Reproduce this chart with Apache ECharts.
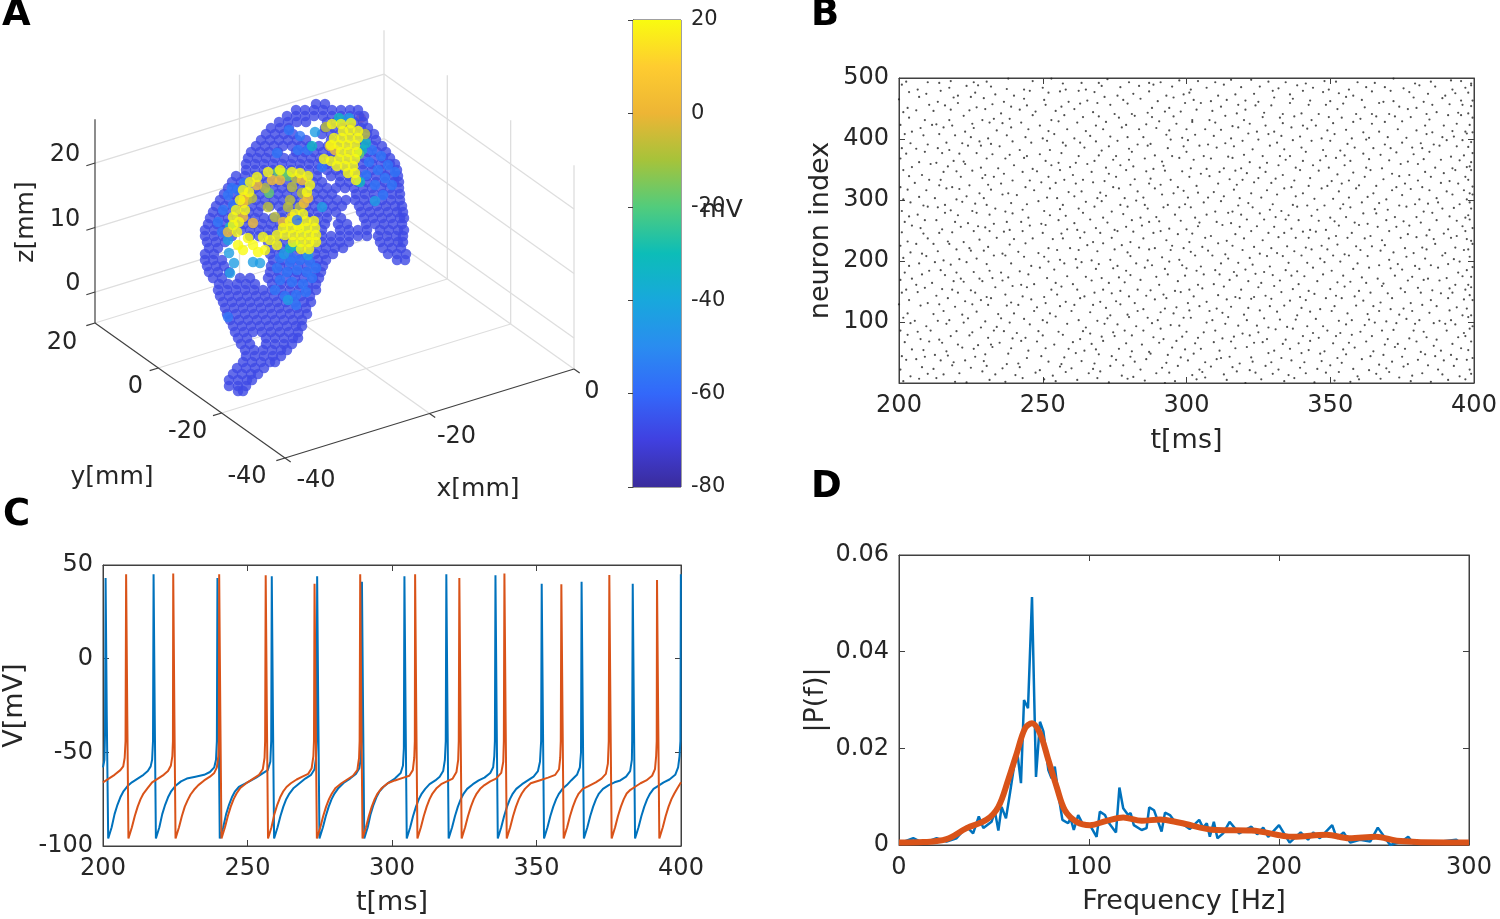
<!DOCTYPE html>
<html><head><meta charset="utf-8">
<style>html,body{margin:0;padding:0;background:#fff}#c{width:1500px;height:919px}</style>
<script src="https://cdn.jsdelivr.net/npm/echarts@6/dist/echarts.min.js"></script>
</head><body><div id="c"></div>
<script>
// ---------- Panel A: projected positions of the cortical nodes, grouped by membrane potential
const deepV=-68, midV=-56, lightV=-44, tealV=-33, greenV=-18, oliveV=-7, orangeV=4, yellowV=20;
const brainDeepRows=[
[104,316,325],
[110,296,305,314,323,332,341,350,358],
[116,287,296,305,314,323,332,341,350,359,364],
[122,279,288,297,306,327,336,345,354,363],
[128,271,280,289,325,334,343,352,361,368],
[134,266,275,284,293,322,331,340,349,358,367,374],
[140,261,270,279,288,297,306,331,340,349,358,367,376],
[146,256,265,274,283,292,301,310,319,328,337,346,355,364,373,382],
[152,251,260,269,278,296,305,314,323,332,341,350,359,368,377,386],
[158,248,257,266,275,284,293,302,311,320,329,338,347,356,365,374,383,390],
[164,246,255,264,273,282,291,300,309,318,327,336,345,354,363,372,381,390,395],
[170,246,255,264,273,282,291,300,309,318,327,336,345,354,363,372,381,390,397],
[176,236,245,254,263,272,281,290,299,308,317,331,340,349,358,367,376,385,394,398],
[182,232,241,250,259,268,277,286,295,304,313,322,340,349,358,367,376,385,394,399],
[188,228,237,246,255,264,273,282,291,300,309,318,327,336,345,354,363,372,381,390,399],
[194,224,233,242,251,260,269,278,287,296,305,314,323,332,356,365,374,383,392,400],
[200,220,229,238,247,256,265,274,283,292,301,310,319,328,337,346,355,364,373,382,391,400],
[206,216,225,234,243,252,261,270,279,288,297,306,315,324,333,342,359,368,377,386,395,402],
[212,213,222,231,240,249,258,282,291,300,309,318,327,336,361,370,379,388,397,403],
[218,210,219,228,237,246,255,264,273,282,291,300,309,318,327,341,364,373,382,391,400,404],
[224,208,217,226,235,244,253,262,271,280,289,298,307,316,325,338,347,366,375,384,393,402],
[230,205,214,223,232,241,250,259,268,277,286,295,304,313,322,340,349,358,367,380,389,398,404],
[236,205,214,223,232,250,259,268,277,286,295,304,313,322,331,340,349,358,367,378,387,396,403],
[242,207,216,225,268,277,286,295,304,313,322,331,340,349,380,389,398,403],
[248,209,218,272,281,290,299,308,317,326,335,343,383,392,401],
[254,205,214,270,279,288,297,306,315,324,333,388,397,406],
[260,205,213,222,273,282,291,300,309,318,326,397,405],
[266,207,216,224,271,280,289,298,307,316,323],
[272,209,218,229,270,279,288,297,306,315,321],
[278,213,222,240,250,268,277,286,295,304,313,319],
[284,219,228,237,246,255,272,281,290,299,308,316],
[290,218,227,236,245,254,263,272,281,290,299,308,316],
[296,220,229,238,247,256,265,274,283,292,301,310],
[302,223,232,241,250,259,268,277,286,295,304,311],
[308,225,234,243,252,261,270,279,288,297,306],
[314,227,236,245,254,263,272,281,290,299,307],
[320,230,239,248,257,266,275,284,293,302],
[326,233,242,251,260,269,278,287,296,302],
[332,235,244,253,262,271,280,289,298],
[338,238,247,266,275,284,293,298],
[344,241,250,266,275,284,292],
[350,245,254,263,272,281,287],
[356,246,255,264,273,281],
[362,243,252,261,270,275],
[368,237,246,255,264],
[374,233,242,251,258],
[380,229,238,247,252],
[386,229,238,246],
[391,238,243]];
const brainMid=[[372,150],[381,156],[388,165],[378,170],[369,162],[385,178],[392,185],[375,185],[366,175],[383,195],[395,172],[280,258],[290,262],[300,260],[310,262],[277,268],[287,272],[297,270],[307,272],[316,268],[280,280],[292,282],[303,284],[312,278],[275,290],[285,296],[296,295],[306,292],[292,258],[228,195],[233,205],[223,210],[238,190],[244,183],[232,188],[218,222],[222,232],[289,130],[300,136],[277,153],[298,150],[308,150],[322,167],[305,230],[228,317],[296,305]];
const brainLight=[[253,262],[260,263],[229,253],[234,263],[230,273],[288,300],[322,207],[315,132],[375,201],[284,254],[308,255],[349,118],[228,240]];
const brainTeal=[[339,118],[312,146],[366,143],[360,182],[290,248],[297,246],[230,227],[362,150]];
const brainGreen=[[359,154],[283,173],[288,176],[278,172],[269,193]];
const brainOlive=[[247,200],[252,198],[265,188],[268,207],[290,200],[288,207],[292,187],[302,193],[300,207],[275,217],[326,127],[365,134],[296,178]];
const brainOrange=[[244,197],[257,185],[272,180],[243,203],[308,198],[304,203],[253,223],[292,217],[283,222],[243,217],[228,232],[335,150],[330,146],[280,180],[302,180]];
const brainYellow=[[233,217],[236,210],[240,200],[243,190],[250,182],[257,177],[268,172],[280,170],[292,172],[300,173],[308,176],[310,185],[307,192],[233,225],[239,222],[245,210],[249,192],
[332,124],[341,124],[351,123],[343,131],[350,130],[358,131],[334,138],[342,138],[350,138],[358,138],[331,145],[339,145],[347,145],[355,145],[341,152],[349,152],[357,152],[324,159],[331,161],[339,159],[347,159],[355,159],[337,166],[345,166],[353,166],[348,173],[355,173],[356,180],
[295,214],[303,214],[290,221],[298,225],[306,221],[314,221],[283,228],[291,228],[299,228],[307,228],[315,228],[277,235],[285,235],[293,235],[301,235],[309,235],[316,235],[293,242],[301,242],[309,242],[316,242],[301,249],[309,249],
[237,232],[248,238],[253,245],[238,245],[243,250],[258,252],[265,250],[263,237],[270,240],[277,245]];
const brainHidden=[[361,118]];
const brainOver=[[297,220]];
// Panel A axes
const zTicks=[0,10,20], yTicks=[20,0,-20,-40], xTicks=[-40,-20,0];
const boxX=[-40,0], boxY=[-40,20], boxZ=[-4.8,26.8];
// Colour bar
const cbarRange=[-80,20];
const parula=['#3A2C9C','#4040E0','#3368FA','#2A8CF0','#18A8DC','#0CBDB8','#52CC7C','#A6C33A','#EDB535','#FECC30','#F9FB10'];
// ---------- Panel B: spikes; each code per decade of neurons is (half-ms after 200)*10 + neuron digit
const rasterRows=[
[33,147,268,392,471,635,742,868,1016,1093,1245,1388,1461,1597,1714,1850,1923,2076,2139,2285,2410,2526,2683,2758,2891,3034,3142,3206,3357,3489,3563,3702,3825,3946],
[81,205,314,426,589,674,813,957,1072,1168,1326,1409,1552,1630,1796,1887,2043,2118,2264,2359,2487,2605,2713,2836,2977,3068,3191,3325,3418,3572,3646,3784,3901,3985],
[12,166,243,379,505,618,724,846,981,1127,1204,1353,1478,1569,1682,1835,1948,2092,2177,2326,2441,2558,2642,2795,2913,3009,3163,3271,3394,3517,3689,3752,3868,3972],
[58,129,297,384,467,596,751,832,1045,1131,1276,1362,1518,1645,1729,1863,2017,2134,2219,2372,2465,2594,2737,2824,2946,3083,3229,3340,3435,3541,3618,3797,3889,3958],
[24,183,256,345,533,607,768,891,994,1152,1239,1397,1484,1613,1758,1876,1962,2058,2241,2303,2452,2579,2661,2809,2938,3051,3117,3284,3376,3503,3667,3734,3846,3991],
[95,174,332,448,526,659,787,903,1027,1186,1293,1375,1536,1622,1741,1908,1995,2106,2233,2347,2429,2613,2726,2854,2962,3095,3178,3302,3459,3526,3631,3773,3917,3964],
[47,218,306,413,552,643,706,859,968,1083,1217,1344,1429,1585,1693,1816,1939,2065,2197,2318,2476,2537,2674,2785,2869,3025,3136,3258,3383,3474,3608,3721,3854,3988],
[69,152,281,367,498,624,793,884,1008,1149,1262,1416,1507,1628,1775,1842,1976,2084,2253,2336,2448,2562,2691,2817,2924,3047,3159,3297,3402,3553,3675,3741,3895,3947],
[16,134,226,405,513,666,735,822,975,1114,1285,1331,1493,1576,1706,1829,2004,2123,2206,2391,2503,2628,2749,2882,2986,3072,3214,3366,3447,3586,3654,3816,3932,3979],
[88,193,337,459,571,682,779,916,1039,1177,1301,1437,1526,1653,1768,1895,1954,2149,2277,2364,2494,2571,2702,2843,2953,3116,3245,3319,3468,3597,3728,3807,3876,3993],
[37,112,272,353,486,601,716,875,1003,1099,1253,1382,1456,1608,1737,1803,1987,2037,2183,2298,2423,2546,2654,2764,2905,3062,3153,3274,3391,3535,3623,3762,3843,3968],
[64,243,318,442,547,693,804,948,1054,1208,1336,1471,1592,1668,1826,1914,2029,2168,2255,2402,2519,2637,2771,2867,3018,3124,3263,3348,3482,3578,3695,3839,3921,3981],
[9,157,289,395,519,628,757,838,964,1126,1228,1358,1443,1549,1701,1852,1934,2096,2212,2315,2433,2586,2687,2803,2931,3036,3187,3306,3421,3512,3648,3746,3884,3952],
[76,201,349,464,576,649,782,927,1021,1163,1269,1403,1514,1641,1787,1869,2011,2143,2287,2379,2458,2598,2725,2836,2979,3089,3235,3352,3439,3561,3706,3829,3937,3996],
[28,139,263,418,538,611,745,862,1011,1105,1292,1368,1487,1602,1723,1845,1969,2052,2224,2341,2471,2553,2669,2791,2896,3043,3172,3288,3407,3529,3638,3777,3858,3974],
[53,186,304,373,502,677,799,897,1063,1138,1243,1423,1541,1663,1752,1921,2023,2115,2268,2383,2507,2619,2744,2851,3004,3108,3201,3369,3495,3616,3712,3835,3943,3987],
[19,121,234,387,456,587,728,851,942,1094,1212,1348,1464,1575,1689,1811,1947,2081,2192,2309,2437,2524,2658,2782,2917,3055,3146,3254,3373,3548,3659,3768,3871,3961],
[91,168,327,431,561,652,763,908,1032,1175,1304,1412,1533,1617,1794,1878,1996,2128,2238,2356,2489,2607,2736,2825,2958,3096,3223,3331,3456,3574,3681,3812,3925,3984],
[41,214,295,401,522,634,711,843,989,1086,1249,1377,1498,1584,1719,1857,2008,2074,2205,2332,2416,2542,2695,2773,2889,3014,3167,3279,3428,3506,3627,3759,3891,3955],
[72,146,258,364,478,615,786,922,1049,1156,1278,1395,1522,1656,1763,1889,1973,2101,2246,2367,2464,2581,2717,2847,2968,3079,3196,3343,3475,3592,3703,3825,3909,3990],
[35,198,311,423,544,669,749,877,1017,1122,1233,1341,1472,1618,1731,1836,1952,2069,2189,2294,2445,2568,2678,2809,2934,3029,3139,3268,3412,3537,3664,3789,3863,3977],
[84,162,276,409,507,597,722,835,973,1108,1258,1386,1509,1594,1749,1898,2035,2157,2271,2398,2512,2633,2756,2879,2989,3101,3218,3357,3444,3583,3679,3803,3938,3969],
[15,128,248,358,491,623,777,889,1041,1191,1316,1429,1556,1672,1781,1905,1981,2113,2229,2325,2473,2591,2704,2832,2945,3057,3184,3294,3386,3521,3642,3738,3872,3998],
[62,207,342,451,565,688,806,937,1076,1147,1268,1351,1488,1611,1707,1864,2021,2138,2283,2407,2534,2649,2768,2858,2997,3128,3247,3364,3498,3609,3726,3848,3956,3983],
[27,175,286,377,529,639,738,869,1006,1135,1297,1406,1529,1638,1776,1829,1944,2045,2171,2344,2459,2576,2686,2818,2908,3041,3156,3281,3419,3544,3672,3795,3881,3949],
[98,154,302,436,557,605,771,918,1029,1172,1241,1374,1501,1586,1698,1883,2002,2087,2259,2376,2497,2616,2733,2861,2971,3068,3209,3336,3466,3558,3691,3822,3927,3994],
[44,187,267,394,482,661,754,854,991,1117,1222,1338,1453,1627,1744,1815,1966,2093,2214,2312,2428,2548,2698,2787,2926,3035,3173,3261,3397,3515,3633,3747,3886,3978],
[73,136,329,415,549,636,798,901,1055,1164,1289,1421,1567,1681,1792,1926,2061,2146,2299,2386,2518,2622,2715,2874,3001,3112,3238,3328,3452,3602,3719,3833,3941,3965],
[22,209,278,363,512,676,741,864,1012,1125,1256,1369,1481,1599,1736,1848,1958,2038,2201,2321,2468,2584,2662,2779,2914,3076,3148,3315,3404,3539,3651,3786,3867,3986],
[86,171,322,447,534,612,785,893,978,1142,1307,1418,1542,1659,1712,1872,1993,2126,2248,2361,2435,2603,2742,2841,2961,3093,3226,3345,3481,3593,3684,3756,3903,3976],
[31,145,253,401,476,593,729,828,1034,1103,1226,1383,1447,1573,1704,1839,2014,2154,2266,2373,2524,2639,2766,2892,3022,3134,3265,3391,3508,3621,3743,3859,3951,3999],
[67,196,339,428,561,647,761,946,1059,1183,1274,1402,1539,1664,1789,1911,1985,2082,2193,2337,2451,2566,2689,2811,2949,3064,3189,3301,3436,3568,3696,3814,3936,3971],
[11,118,284,371,494,625,717,881,999,1098,1237,1359,1491,1615,1747,1825,1941,2073,2227,2355,2479,2598,2731,2853,2983,3087,3204,3323,3461,3527,3641,3778,3897,3992],
[79,213,293,438,586,668,792,912,1048,1153,1283,1431,1518,1644,1755,1893,2028,2169,2304,2393,2506,2625,2752,2866,3011,3132,3248,3374,3489,3612,3708,3831,3948,3963],
[39,161,316,407,518,601,733,866,967,1129,1211,1346,1463,1589,1727,1858,1977,2103,2236,2348,2424,2556,2671,2799,2928,3052,3165,3289,3433,3551,3666,3794,3879,3989],
[94,229,345,469,573,692,807,931,1067,1194,1319,1443,1547,1635,1771,1846,2032,2141,2262,2382,2513,2647,2763,2887,2993,3107,3253,3362,3499,3619,3733,3852,3954,3975],
[18,142,261,384,453,618,748,879,1024,1111,1231,1364,1496,1606,1718,1833,1959,2056,2178,2329,2442,2561,2696,2814,2935,3049,3144,3277,3415,3543,3657,3776,3905,3982],
[56,189,307,426,547,655,774,892,985,1137,1252,1393,1512,1629,1783,1902,2009,2122,2291,2404,2532,2652,2722,2839,2972,3103,3236,3354,3468,3585,3699,3841,3933,3997],
[25,124,275,352,489,579,708,842,1052,1169,1296,1411,1468,1604,1739,1875,1988,2099,2216,2338,2463,2589,2683,2806,2952,3071,3176,3305,3425,3576,3645,3769,3888,3967],
[83,201,334,443,566,642,796,924,1037,1144,1264,1376,1527,1661,1752,1899,2018,2151,2273,2397,2509,2634,2748,2877,3007,3122,3259,3381,3504,3633,3721,3818,3928,3985],
[48,176,288,396,503,621,756,883,1001,1088,1221,1335,1474,1593,1703,1867,1972,2067,2195,2311,2439,2578,2665,2794,2941,3038,3151,3272,3403,3532,3678,3783,3864,3959],
[92,158,319,462,528,684,789,906,1043,1176,1303,1426,1559,1676,1798,1884,2006,2136,2245,2369,2492,2612,2739,2847,2984,3115,3231,3342,3476,3604,3711,3853,3942,3991],
[13,233,264,372,515,637,726,857,982,1119,1247,1372,1448,1583,1724,1819,1935,2048,2207,2321,2445,2552,2676,2812,2902,3026,3168,3295,3388,3509,3662,3792,3885,3973],
[75,181,351,458,581,663,773,939,1061,1159,1286,1397,1535,1648,1766,1917,2041,2161,2278,2401,2536,2655,2757,2871,2996,3085,3213,3327,3457,3566,3692,3829,3919,3995],
[34,127,246,368,497,609,712,848,955,1096,1229,1354,1501,1621,1733,1855,1965,2078,2186,2352,2418,2543,2671,2802,2921,3059,3181,3291,3411,3549,3671,3744,3893,3962],
[61,216,325,419,542,657,783,895,1026,1133,1268,1389,1476,1598,1761,1881,1999,2109,2243,2366,2485,2595,2729,2856,2976,3098,3242,3349,3483,3601,3716,3837,3926,3984],
[5,149,271,388,509,597,731,876,1014,1181,1313,1439,1564,1686,1802,1918,2054,2172,2284,2413,2501,2618,2746,2863,3002,3119,3224,3371,3442,3588,3651,3787,3913,3993],
[77,194,299,411,536,673,801,919,1046,1128,1259,1367,1521,1634,1748,1861,1983,2026,2221,2343,2474,2609,2723,2819,2957,3065,3161,3298,3429,3557,3684,3801,3875,3966],
[29,131,354,477,558,646,752,871,1004,1161,1301,1417,1545,1677,1779,1906,2031,2144,2269,2385,2516,2643,2778,2884,2991,3131,3255,3385,3513,3628,3736,3851,3944,3988],
[54,203,282,365,523,614,769,935,1069,1141,1272,1392,1458,1603,1742,1823,1956,2085,2203,2317,2457,2574,2693,2831,2965,3044,3193,3312,3449,3591,3704,3846,3915,3981]];
// ---------- Panel C: membrane potentials, pairs of t[ms], V[mV]
const neuronBlue=[200,-58,200.5,-54,200.7,-40,200.9,43,201.3,-30,201.8,-96,202.2,-96,
203,-90,204,-83,205,-78,206,-74,207,-71,208.5,-68,210,-66,212,-64,214,-62,215.5,-60,216.5,-57.5,217,-54,217.3,-44,217.5,45,217.9,-30,218.3,-96,218.7,-96,
219.5,-90,220.5,-83,221.5,-78,222.5,-74,223.5,-71,225,-68,227,-65.5,229,-64,232,-63,235,-62,237,-60.5,238.5,-58,239.1,-54,239.4,-44,239.6,43,240,-30,240.4,-96,240.8,-96,
241.6,-90,242.6,-83,243.6,-78,244.6,-74,245.6,-71,247,-68.5,250,-66,253,-63.5,255.5,-61,257,-59.5,257.9,-55,258.2,-44,258.4,44,258.8,-30,259.2,-96,259.6,-96,
260.4,-90,261.4,-84,262.4,-79,263.4,-75,264.5,-72,266,-69,268,-66.5,270,-64,272,-62,273.2,-59,273.7,-53,273.9,-44,274.1,44,274.5,-30,274.9,-96,275.3,-96,
276.1,-90,277.1,-84,278.1,-79,279.1,-75,280.1,-72,281.5,-69,283.5,-66,285.5,-64,287.5,-61.5,288.7,-58.5,289.2,-53,289.4,-44,289.6,41,290,-30,290.4,-96,290.8,-96,
291.6,-90,292.6,-83,293.6,-78,294.6,-74,295.6,-71,297,-68.5,299,-66,301,-64,303,-61,303.8,-57,304.1,-48,304.3,44,304.7,-30,305.1,-96,305.5,-96,
306.3,-90,307.3,-84,308.3,-79,309.3,-75,310.3,-72,311.5,-69.5,313,-67,315,-65,316.5,-63,317.7,-60,318.3,-54,318.6,-44,318.8,45,319.2,-30,319.6,-96,320,-96,
320.8,-90,321.8,-84,322.8,-79,323.8,-75,324.8,-72,326,-69.5,328,-67,330,-65,332,-63.5,334,-61,335,-58,335.4,-52,335.6,-44,335.8,44.5,336.2,-30,336.6,-96,337,-96,
337.8,-90,338.8,-84,339.8,-79,340.8,-75,341.8,-72,343,-69.5,345,-67,347,-65,349,-63,350.5,-60,351.2,-55,351.6,-44,351.8,40,352.2,-30,352.6,-96,353,-96,
353.8,-90,354.8,-84,355.8,-79,356.8,-75,357.8,-72,359,-69.5,360.5,-67.5,362,-65,364,-62,365,-58,365.4,-50,365.6,41,366,-30,366.4,-96,366.8,-96,
367.6,-90,368.6,-84,369.6,-79,370.6,-75,371.6,-72,373,-69.5,375,-67.5,377,-66,379,-65,381,-63,382.4,-60,383,-54,383.1,-44,383.3,40,383.7,-30,384.1,-96,384.5,-96,
385.3,-90,386.3,-84,387.3,-79,388.3,-75,389.3,-72,390.5,-69.5,392,-68,394,-66,396,-64.5,398,-62,399,-58,399.5,-52,399.8,-44,399.95,45,400,45];
const neuronRed=[200,-66,202,-64,204,-62,206,-59.5,207,-57.5,207.5,-53,207.8,-44,208,45,208.4,-30,208.8,-96,209.2,-96,
210,-90,211,-84,212,-79,213,-75,214,-72,215.5,-69,217,-66,219,-64,221,-62,222.5,-60,223.5,-57,224,-52,224.2,-44,224.3,45.4,224.7,-30,225.1,-96,225.5,-96,
226.3,-90,227.3,-84,228.3,-79,229.3,-75.5,230.3,-72.5,231.5,-70,233,-67.5,235,-65,237,-63,238.5,-61,239.4,-58,239.9,-52,240.1,-44,240.2,45,240.6,-30,241,-96,241.4,-96,
242.2,-90,243.2,-84,244.2,-79,245.2,-75,246.2,-72,247.5,-69,250,-66,252,-64,254,-62,255.3,-59,255.9,-53,256.1,-44,256.3,44.5,256.7,-30,257.1,-96,257.5,-96,
258.3,-90,259.3,-83,260.3,-78,261.3,-74,262.3,-71,263.5,-68.5,265,-66.5,267,-64.5,269,-63,271,-61.5,272.2,-58.5,272.8,-52,273,-44,273.2,40,273.6,-30,274,-96,274.4,-96,
275.2,-90,276.2,-84,277.2,-79,278.2,-75,279.2,-72,280.5,-69,282.5,-66.5,284.5,-64.5,286.5,-62.5,288,-59.5,288.6,-53,288.8,-44,289,45,289.4,-30,289.8,-96,290.2,-96,
291,-90,292,-84,293,-79,294,-75,295,-72,296.5,-69,298.5,-66.5,301,-65,304,-63.5,306,-62.5,307.2,-59.5,307.7,-53,307.9,-44,308,45,308.4,-30,308.8,-96,309.2,-96,
310,-90,311,-84,312,-79,313,-75,314,-72,315.5,-69,317,-67,319,-65.5,321,-64,322.3,-60.5,322.9,-54,323.1,-44,323.3,43,323.7,-30,324.1,-96,324.5,-96,
325.3,-90,326.3,-84,327.3,-79,328.3,-75,329.3,-72,330.5,-69.5,332,-67.5,334,-65.5,336,-64,337.8,-61,338.5,-55,338.7,-44,338.9,45.4,339.3,-30,339.7,-96,340.1,-96,
340.9,-90,341.9,-84,342.9,-79,343.9,-75,344.9,-72,346,-69.5,348,-66.5,351,-65,354,-63.5,356.5,-62,357.8,-59,358.2,-53,358.4,-44,358.6,39.7,359,-30,359.4,-96,359.8,-96,
360.6,-90,361.6,-84,362.6,-79,363.6,-75,364.6,-72,366,-69.5,368,-68,370.5,-66,372.5,-64,374,-61.5,374.7,-56,375,-44,375.2,44.7,375.6,-30,376,-96,376.4,-96,
377.2,-90,378.2,-84,379.2,-79,380.2,-75,381.2,-72,382.5,-70,384,-68.5,386,-66.5,388,-65,390,-62.5,391,-59,391.4,-52,391.6,-44,391.7,42,392.1,-30,392.5,-96,392.9,-96,
393.7,-90,394.7,-84,395.7,-79,396.7,-75,397.7,-72,398.8,-69,400,-66];
// ---------- Panel D: spectrum, pairs of f[Hz], |P(f)|
const spectrumRaw=[0.5,.0004,7.5,.0014,12.8,.0004,19.8,.0014,25,.0007,30.3,.0014,35.6,.0038,39,.0024,42,.0059,44.4,.0035,48.7,.0048,50.5,.0069,52.3,.003,54,.0079,56.3,.0055,58.4,.0107,62,.02,64.2,.0128,65.8,.03,67.9,.0283,70,.0513,72.1,.0141,74.2,.0255,76,.0235,78.6,.0155,80.3,.0138,82,.0162,83.8,.0107,86,.0052,89,.0045,90.3,.0055,92,.0031,94.3,.0062,97,.0041,100.5,.0041,104,.0017,105.7,.0069,108.4,.0062,110,.0048,114.2,.0026,116,.0119,118,.0076,120.6,.0062,121.9,.0066,123.6,.0041,127.7,.0031,130.3,.0035,131.7,.0078,134.2,.0072,138.2,.0028,140,.0067,142.6,.0062,145.2,.0048,148,.0047,153,.0033,158,.0052,160,.0036,162,.0045,163.6,.0017,165.7,.0048,167.6,.0014,170.6,.0024,174,.0048,179,.0024,185.5,.0038,188.5,.0022,191.7,.0036,194.3,.0017,200,.0041,205.6,.0005,211.4,.0026,215.3,.0011,218,.0026,221.5,.0014,228,.0041,230.4,.0014,234,.0026,237.5,.0005,242.6,.0011,248,.0007,252,.0036,258.5,0,264.6,.0007,268,.0017,270.7,.0003,281,.0005,293.3,.0011,296,.0003,300,.0007];
const spectrumSmooth=[0,.0005,12.8,.0006,25,.0012,35.6,.0035,46,.0052,52.3,.0079,57.5,.0135,62,.019,66.3,.0241,70,.0252,74.2,.0231,78.6,.0176,83,.012,87.3,.0072,93.5,.0048,100.5,.0041,109.2,.005,118,.0057,127.7,.005,137.4,.0053,147.9,.0046,167,.0031,185.5,.003,207.4,.0017,225,.0021,237,.0014,251,.0017,262,.0009,288,.0005,300,.0005];
const rasterXTicks=[200,400,50], rasterYTicks=[0,500,100];
const voltXTicks=[200,400,50], voltYTicks=[-100,50,50];
const freqXTicks=[0,300,100], powerYTicks=[0,.06,.02];

const pairs=a=>{const o=[];for(let i=0;i<a.length;i+=2)o.push([a[i],a[i+1]]);return o;};
const FONT='"DejaVu Sans"', TXT='#262626', AX='#404040';
// projection of the 3-D box in panel A
const project=(x,y,z)=>[574+x*(289/40)-(y+40)*(190/60),369-x*(89/40)-(y+40)*(135/60)-(z+4.8)*6.45];
const seg=(a,b)=>project(...a).concat(project(...b));
const [zlo,zhi]=boxZ;
const wallSegs=[];
zTicks.concat([zlo]).forEach(z=>{wallSegs.push(seg([-40,20,z],[0,20,z]),seg([0,20,z],[0,-40,z]));});
xTicks.slice(1).forEach(x=>wallSegs.push(seg([x,20,zlo],[x,20,zhi])));
yTicks.slice(1).forEach(y=>wallSegs.push(seg([0,y,zlo],[0,y,zhi])));
[0,-20].forEach(y=>wallSegs.push(seg([-40,y,zlo],[0,y,zlo])));
wallSegs.push(seg([-20,-40,zlo],[-20,20,zlo]));
const axisSegs=[seg([-40,20,zlo],[-40,20,zhi]),seg([-40,20,zlo],[-40,-40,zlo]),seg([-40,-40,zlo],[0,-40,zlo])];
zTicks.forEach(z=>axisSegs.push(seg([-40,20,z],[-41.2,20,z])));
yTicks.forEach(y=>axisSegs.push(seg([-40,y,zlo],[-41.2,y,zlo])));
xTicks.forEach(x=>axisSegs.push(seg([x,-40,zlo],[x,-41.8,zlo])));
const text3d=[];
zTicks.forEach(z=>{const p=project(-40,20,z);text3d.push({p:[p[0]-30+(z===0?8:0),p[1]-8],t:String(z),s:24});});
const yOff={'20':[-33,20],'0':[-23,19],'-20':[-34,19],'-40':[-38,19]};
yTicks.forEach(y=>{const p=project(-40,y,zlo);text3d.push({p:[p[0]+yOff[y][0],p[1]+yOff[y][1]],t:String(y),s:24});});
xTicks.forEach(x=>{const p=project(x,-40,zlo);text3d.push({p:[p[0]+(x===0?18:x===-20?27:31),p[1]+23],t:String(x),s:24});});
text3d.push({p:[26,222],t:'z[mm]',s:25,r:Math.PI/2},{p:[112,477],t:'y[mm]',s:25},{p:[478,489],t:'x[mm]',s:25},{p:[722,210],t:'mV',s:25});

const brainData=[];
brainDeepRows.forEach(r=>r.slice(1).forEach(x=>brainData.push([x,r[0],deepV])));
[[brainMid,midV],[brainLight,lightV],[brainTeal,tealV],[brainGreen,greenV],[brainOlive,oliveV],[brainOrange,orangeV],[brainYellow,yellowV],[brainOver,midV]]
 .forEach(([g,v])=>g.forEach(p=>brainData.push([p[0],p[1],v])));
const rasterData=[];
rasterRows.forEach((r,i)=>r.forEach(c=>rasterData.push([200+Math.floor(c/10)/2,i*10+c%10])));

const grids=[{left:0,top:0,width:750,height:510},
 {left:633,top:20,width:48,height:467,show:true,borderColor:AX,borderWidth:1,backgroundColor:'#fff'},
 {left:899,top:78,width:575,height:305,show:true,borderColor:AX,borderWidth:1},
 {left:102,top:565,width:579,height:281,show:true,borderColor:AX,borderWidth:1},
 {left:899,top:555,width:570,height:290,show:true,borderColor:AX,borderWidth:1}];
const base=(g,t)=>({gridIndex:g,type:'value',min:t[0],max:t[1],interval:t[2],splitLine:{show:false},
 axisLine:{show:true,onZero:false,lineStyle:{color:AX,width:1}},axisTick:{show:true,inside:true,length:6,lineStyle:{color:AX,width:1}}});
const lab={show:true,color:TXT,fontFamily:FONT,fontSize:24};
const nm=(n,gap)=>({name:n,nameLocation:'middle',nameGap:gap,nameTextStyle:{color:TXT,fontFamily:FONT,fontSize:27}});
const xAxis=[{gridIndex:0,type:'value',min:0,max:750,show:false},{gridIndex:1,type:'value',min:0,max:1,show:false},
 Object.assign(base(2,rasterXTicks),{position:'bottom',axisLabel:Object.assign({margin:11},lab)},nm('t[ms]',44)),
 Object.assign(base(2,rasterXTicks),{position:'top',axisLabel:{show:false}}),
 Object.assign(base(3,voltXTicks),{position:'bottom',axisLabel:Object.assign({margin:11},lab)},nm('t[ms]',43)),
 Object.assign(base(3,voltXTicks),{position:'top',axisLabel:{show:false}}),
 Object.assign(base(4,freqXTicks),{position:'bottom',axisLabel:Object.assign({margin:11},lab)},nm('Frequency [Hz]',43)),
 Object.assign(base(4,freqXTicks),{position:'top',axisLabel:{show:false}})];
const yAxis=[{gridIndex:0,type:'value',min:0,max:510,inverse:true,show:false},
 {gridIndex:1,type:'value',min:cbarRange[0],max:cbarRange[1],interval:20,position:'right',splitLine:{show:false},
  axisLine:{show:true,lineStyle:{color:AX}},axisTick:{show:true,inside:true,length:5,lineStyle:{color:AX}},
  axisLabel:{show:true,color:TXT,fontFamily:FONT,fontSize:21,margin:10}},
 Object.assign(base(2,rasterYTicks),{position:'left',axisLabel:Object.assign({margin:10,formatter:v=>v===0?'':String(v)},lab)},nm('neuron index',65)),
 Object.assign(base(2,rasterYTicks),{position:'right',axisLabel:{show:false}}),
 Object.assign(base(3,voltYTicks),{position:'left',axisLabel:Object.assign({margin:10},lab)},nm('V[mV]',75)),
 Object.assign(base(3,voltYTicks),{position:'right',axisLabel:{show:false}}),
 Object.assign(base(4,powerYTicks),{position:'left',axisLabel:Object.assign({margin:10,formatter:v=>v===0?'0':v.toFixed(2)},lab)},nm('|P(f)|',70)),
 Object.assign(base(4,powerYTicks),{position:'right',axisLabel:{show:false}})];
const segSeries=(d,col,w)=>({type:'custom',xAxisIndex:0,yAxisIndex:0,silent:true,clip:false,data:d,
 renderItem:(p,api)=>{const a=api.coord([api.value(0),api.value(1)]),b=api.coord([api.value(2),api.value(3)]);
  return {type:'line',shape:{x1:a[0],y1:a[1],x2:b[0],y2:b[1]},style:{stroke:col,lineWidth:w}};}});
const series=[
 segSeries(wallSegs,'#DEDEDE',1.3),
 segSeries(axisSegs,AX,1.2),
 {type:'scatter',xAxisIndex:0,yAxisIndex:0,data:brainHidden,symbolSize:10,itemStyle:{color:'#F26A6A'},silent:true},
 {type:'scatter',xAxisIndex:0,yAxisIndex:0,data:brainData,symbolSize:10.5,silent:true,large:false},
 {type:'custom',xAxisIndex:0,yAxisIndex:0,silent:true,clip:false,data:text3d.map(o=>o.p),z:5,
  renderItem:(p,api)=>{const o=text3d[p.dataIndex],c=api.coord(o.p);
   return {type:'text',x:c[0],y:c[1],rotation:o.r||0,style:{text:o.t,fill:TXT,font:o.s+'px '+FONT,align:'center',verticalAlign:'middle'}};}},
 {type:'custom',xAxisIndex:1,yAxisIndex:1,silent:true,data:[[0,cbarRange[0],1,cbarRange[1]]],encode:{x:[0,2],y:[1,3]},
  renderItem:(p,api)=>{const a=api.coord([api.value(0),api.value(3)]),b=api.coord([api.value(2),api.value(1)]);
   return {type:'rect',shape:{x:a[0],y:a[1],width:b[0]-a[0],height:b[1]-a[1]},
    style:{fill:new echarts.graphic.LinearGradient(0,0,0,1,parula.slice().reverse().map((c,i)=>({offset:i/(parula.length-1),color:c})))}};}},
 {type:'scatter',xAxisIndex:2,yAxisIndex:2,data:rasterData,symbol:'circle',symbolSize:2.2,itemStyle:{color:'#222'},silent:true},
 {type:'line',xAxisIndex:4,yAxisIndex:4,data:pairs(neuronBlue),symbol:'none',lineStyle:{color:'#0072BD',width:2},silent:true},
 {type:'line',xAxisIndex:4,yAxisIndex:4,data:pairs(neuronRed),symbol:'none',lineStyle:{color:'#D95319',width:2},silent:true},
 {type:'line',xAxisIndex:6,yAxisIndex:6,data:pairs(spectrumRaw),symbol:'none',lineStyle:{color:'#0072BD',width:2.5},silent:true},
 {type:'line',xAxisIndex:6,yAxisIndex:6,data:pairs(spectrumSmooth),symbol:'none',smooth:0.35,lineStyle:{color:'#D95319',width:6},silent:true}
];
const letter=(t,x,y)=>({type:'text',x,y,style:{text:t,fill:'#000',font:'bold 37px '+FONT}});
const chart=echarts.init(document.getElementById('c'),null,{renderer:'canvas'});
chart.setOption({animation:false,backgroundColor:'#fff',grid:grids,xAxis,yAxis,series,
 visualMap:{type:'continuous',show:false,min:cbarRange[0],max:cbarRange[1],dimension:2,seriesIndex:3,inRange:{color:parula}},
 graphic:[letter('A',2,-3),letter('B',811,-3),letter('C',3,497),letter('D',811,469)]});
</script></body></html>
